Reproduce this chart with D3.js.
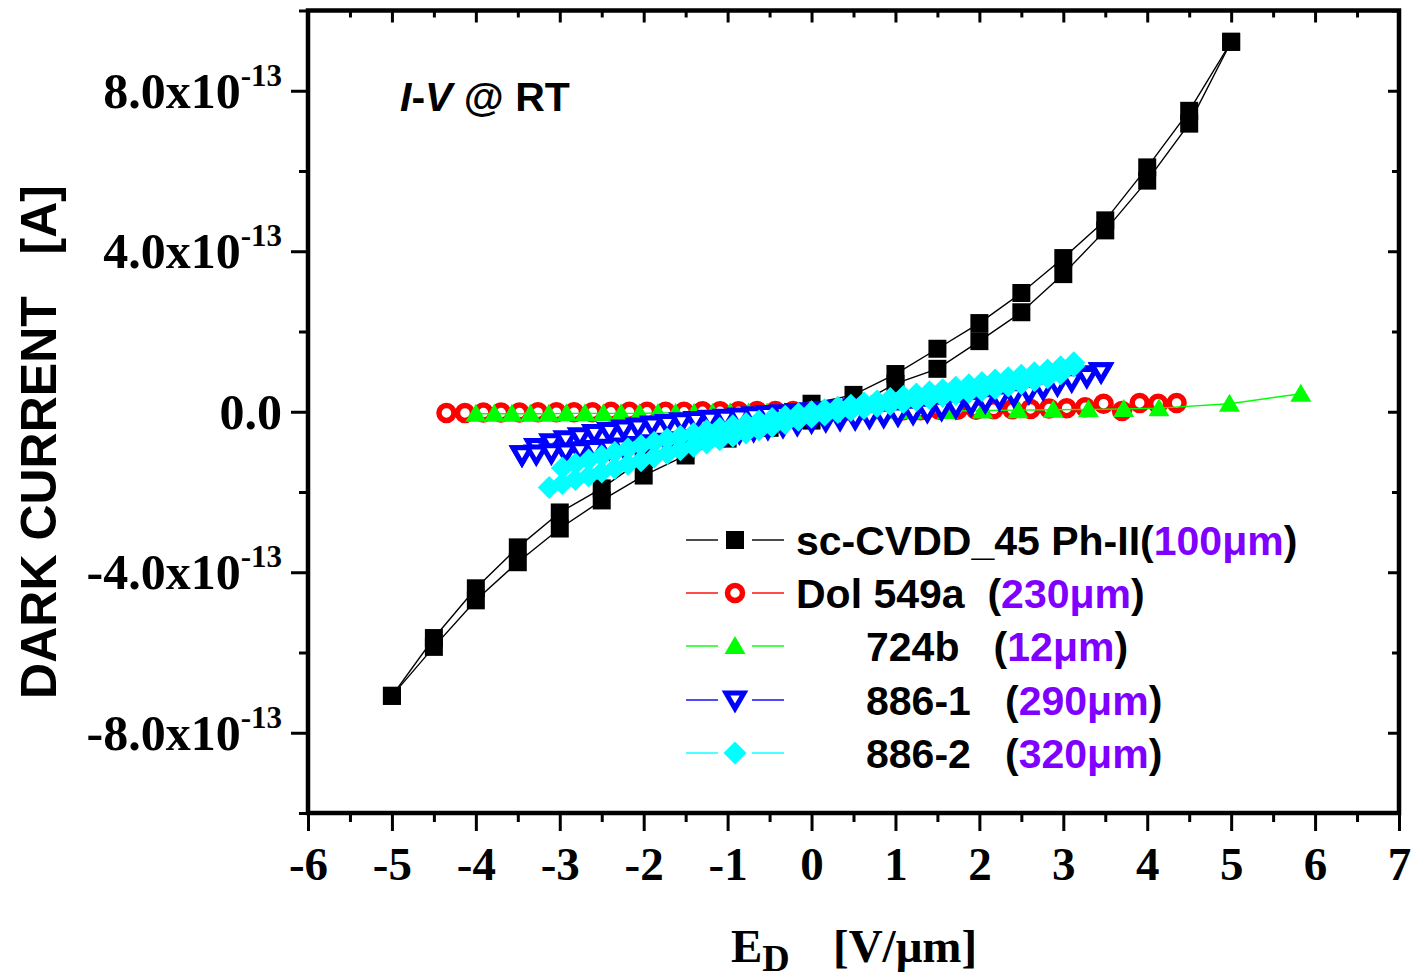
<!DOCTYPE html>
<html>
<head>
<meta charset="utf-8">
<script src="https://cdn.jsdelivr.net/npm/d3@7"></script>
<style>
  html, body { margin: 0; padding: 0; background: #fff; }
  svg { display: block; }
</style>
</head>
<body>
<svg id="chart" width="1411" height="980"></svg>
<script>
// Dark current vs. field, currents in units of 1e-13 A.

// sc-CVDD_45 Ph-II (100 um): two sweeps
const cvdX      = [-5,-4.5,-4,-3.5,-3,-2.5,-2,-1.5,-1,-0.5,0,0.5,1,1.5,2,2.5,3,3.5,4,4.5,5];
const cvdSweepA = [-7.08,-5.64,-4.40,-3.38,-2.51,-1.91,-1.17,-0.84,-0.55,-0.12,0.20,0.42,0.94,1.57,2.21,2.96,3.83,4.77,6.09,7.50,9.22];
const cvdSweepB = [-7.08,-5.86,-4.70,-3.75,-2.91,-2.21,-1.59,-1.09,-0.67,-0.40,-0.22,0.12,0.70,1.07,1.76,2.48,3.43,4.52,5.76,7.18,9.22];

// Dol 549a (230 um)
const dolX = [-4.35,-4.13,-3.91,-3.70,-3.48,-3.26,-3.04,-2.83,-2.61,-2.39,-2.17,-1.96,-1.74,-1.52,-1.30,-1.09,-0.87,-0.65,-0.43,-0.22,0,
              0.22,0.43,0.65,0.87,1.09,1.30,1.52,1.74,1.96,2.17,2.39,2.61,2.83,3.04,3.26,3.48,3.70,3.91,4.13,4.35];
const dolI = [-0.03,-0.03,-0.02,-0.02,-0.02,-0.01,-0.01,-0.01,-0.01,0,0,0,0,0,0.01,0.01,0.01,0.02,0.02,0.02,0.02,
              0.03,0.03,0.03,0.04,0.04,0.04,0.05,0.05,0.05,0.06,0.06,0.07,0.08,0.09,0.11,0.20,0.02,0.22,0.20,0.22];

// 724b (12 um)
const s724X = [-4.00,-3.78,-3.57,-3.35,-3.13,-2.92,-2.70,-2.48,-2.27,-2.05,-1.83,-1.62,-1.40,-1.18,-0.97,-0.75,-0.53,
               -0.32,-0.10,0.12,0.33,0.55,0.77,0.98,1.20,1.62,2.04,2.46,2.88,3.30,3.72,4.14,4.98,5.83];
const s724I = [-0.05,-0.05,-0.05,-0.05,-0.05,-0.04,-0.04,-0.04,-0.04,-0.04,-0.03,-0.03,-0.03,-0.03,-0.02,-0.02,-0.02,
               -0.01,-0.01,0,0,0,0.01,0.01,0.01,0.02,0.03,0.04,0.05,0.06,0.07,0.09,0.20,0.45];

// 886-1 (290 um): two sweeps
const s8861X = [-3.45,-3.28,-3.10,-2.93,-2.76,-2.59,-2.41,-2.24,-2.07,-1.90,-1.72,-1.55,-1.38,-1.21,-1.03,-0.86,-0.69,-0.52,-0.34,-0.17,0,
                0.17,0.34,0.52,0.69,0.86,1.03,1.21,1.38,1.55,1.72,1.90,2.07,2.24,2.41,2.59,2.76,2.93,3.10,3.28,3.45];
const s8861A = [-1.07,-0.89,-0.77,-0.70,-0.62,-0.54,-0.49,-0.43,-0.38,-0.33,-0.29,-0.25,-0.22,-0.19,-0.16,-0.13,-0.10,-0.07,-0.05,-0.02,0.00,
                0.03,0.06,0.10,0.13,0.17,0.21,0.25,0.29,0.33,0.37,0.42,0.46,0.51,0.56,0.62,0.68,0.75,0.83,0.92,1.00];
const s8861B = [-1.07,-1.05,-1.02,-1.00,-0.97,-0.94,-0.91,-0.88,-0.84,-0.80,-0.76,-0.72,-0.67,-0.62,-0.57,-0.52,-0.46,-0.41,-0.36,-0.31,-0.25,
                -0.22,-0.19,-0.17,-0.14,-0.11,-0.08,-0.04,0.01,0.06,0.12,0.18,0.25,0.32,0.40,0.48,0.57,0.67,0.77,0.88,1.00];

// 886-2 (320 um): two sweeps
const s8862X = [-3.125,-2.969,-2.813,-2.656,-2.5,-2.344,-2.188,-2.031,-1.875,-1.719,-1.563,-1.406,-1.25,-1.094,-0.938,-0.781,-0.625,-0.469,-0.313,-0.156,0,
                0.156,0.313,0.469,0.625,0.781,0.938,1.094,1.25,1.406,1.563,1.719,1.875,2.031,2.188,2.344,2.5,2.656,2.813,2.969,3.125];
const s8862A = [null,-1.40,-1.30,-1.20,-1.10,-1.01,-0.92,-0.84,-0.76,-0.68,-0.61,-0.54,-0.47,-0.41,-0.35,-0.29,-0.23,-0.17,-0.11,-0.05,0.00,
                0.05,0.11,0.16,0.22,0.27,0.33,0.38,0.44,0.50,0.55,0.61,0.67,0.73,0.79,0.85,0.91,0.97,1.04,1.12,1.22];
const s8862B = [-1.89,-1.79,-1.69,-1.60,-1.50,-1.41,-1.31,-1.22,-1.13,-1.04,-0.95,-0.86,-0.78,-0.70,-0.61,-0.53,-0.45,-0.37,-0.29,-0.21,-0.14,
                -0.08,-0.02,0.03,0.08,0.13,0.18,0.23,0.28,0.33,0.38,0.43,0.48,0.53,0.58,0.64,0.70,0.77,0.85,0.95,1.14];

// Axis ticks
const xMajor = [-6,-5,-4,-3,-2,-1,0,1,2,3,4,5,6,7];
const xMinor = [-5.5,-4.5,-3.5,-2.5,-1.5,-0.5,0.5,1.5,2.5,3.5,4.5,5.5,6.5];
const yMajor = [-8,-4,0,4,8];
const yMinor = [-10,-6,-2,2,6,10];
const yMantissa = ["-8.0","-4.0","0.0","4.0","8.0"];

// Legend entries
const legendNames  = ["sc-CVDD_45 Ph-II(", "Dol 549a  (", "724b   (", "886-1   (", "886-2   ("];
const legendThick  = ["100\u03bcm", "230\u03bcm", "12\u03bcm", "290\u03bcm", "320\u03bcm"];
const seriesColors = ["#000000", "#ff0000", "#00ff00", "#0000ff", "#00ffff"];
const seriesShapes = ["square", "circle", "triangle", "down", "diamond"];

const svg = d3.select("#chart");
const plotLeft = 308, plotRight = 1399, plotTop = 10.5, plotBottom = 813;
const x = d3.scaleLinear().domain([-6, 7]).range([plotLeft, plotRight]);
const y = d3.scaleLinear().domain([-10, 10]).range([plotBottom, plotTop]);

const SERIF = "'Liberation Serif', 'Times New Roman', serif";
const SANS = "'Liberation Sans', Arial, sans-serif";

// marker drawing
function drawMarker(g, shape, color, cx, cy) {
  if (shape === "circle") {
    g.append("circle").attr("cx", cx).attr("cy", cy).attr("r", 7.5)
      .attr("fill", "#fff").attr("stroke", color).attr("stroke-width", 5.5);
    return;
  }
  const paths = {
    square: "M-9,-9H9V9H-9Z",
    triangle: "M0,-10L10.5,8L-10.5,8Z",
    down: "M-9,-7L9,-7L0,8.5Z",
    diamond: "M0,-11.5L11.5,0L0,11.5L-11.5,0Z"
  };
  const p = g.append("path").attr("d", paths[shape])
    .attr("transform", `translate(${cx},${cy})`);
  if (shape === "down") {
    p.attr("fill", "#fff").attr("stroke", color).attr("stroke-width", 5)
     .attr("stroke-linejoin", "miter");
  } else {
    p.attr("fill", color);
  }
}

const plot = svg.append("g");
const line = d3.line().defined(d => d[1] !== null).x(d => x(d[0])).y(d => y(d[1]));

function drawSeries(xs, ys, color, shape) {
  const pts = xs.map((v, i) => [v, ys[i]]);
  const g = plot.append("g");
  g.append("path").attr("d", line(pts)).attr("fill", "none")
    .attr("stroke", color).attr("stroke-width", 1.4);
  pts.filter(d => d[1] !== null).forEach(d => drawMarker(g, shape, color, x(d[0]), y(d[1])));
}

// lines of each series under the markers
drawSeries(cvdX, cvdSweepA, seriesColors[0], seriesShapes[0]);
drawSeries(cvdX, cvdSweepB, seriesColors[0], seriesShapes[0]);
drawSeries(dolX, dolI, seriesColors[1], seriesShapes[1]);
drawSeries(s724X, s724I, seriesColors[2], seriesShapes[2]);
drawSeries(s8861X, s8861A, seriesColors[3], seriesShapes[3]);
drawSeries(s8861X, s8861B, seriesColors[3], seriesShapes[3]);
drawSeries(s8862X, s8862B, seriesColors[4], seriesShapes[4]);
drawSeries(s8862X, s8862A, seriesColors[4], seriesShapes[4]);

// axes
function styleAxis(g) {
  g.select(".domain").remove();
  g.selectAll(".tick line").attr("stroke", "#000").attr("stroke-width", 3);
}
svg.append("g").attr("transform", `translate(0,${plotBottom})`)
  .call(d3.axisBottom(x).tickValues(xMajor).tickSize(18).tickPadding(16).tickFormat(d => String(d)))
  .call(styleAxis)
  .call(g => g.selectAll("text").attr("font-family", SERIF).attr("font-weight", "bold")
    .attr("font-size", 47).attr("fill", "#000"));
svg.append("g").attr("transform", `translate(0,${plotBottom})`)
  .call(d3.axisBottom(x).tickValues(xMinor).tickSize(9).tickFormat(""))
  .call(styleAxis);
svg.append("g").attr("transform", `translate(0,${plotTop})`)
  .call(d3.axisBottom(x).tickValues(xMajor).tickSize(12).tickFormat(""))
  .call(styleAxis);
svg.append("g").attr("transform", `translate(0,${plotTop})`)
  .call(d3.axisBottom(x).tickValues(xMinor).tickSize(7).tickFormat(""))
  .call(styleAxis);
svg.append("g").attr("transform", `translate(${plotLeft},0)`)
  .call(d3.axisLeft(y).tickValues(yMajor).tickSize(17).tickFormat(""))
  .call(styleAxis);
svg.append("g").attr("transform", `translate(${plotLeft},0)`)
  .call(d3.axisLeft(y).tickValues(yMinor).tickSize(9).tickFormat(""))
  .call(styleAxis);
svg.append("g").attr("transform", `translate(${plotRight},0)`)
  .call(d3.axisRight(y).tickValues(yMajor).tickSize(-11).tickFormat(""))
  .call(styleAxis);
svg.append("g").attr("transform", `translate(${plotRight},0)`)
  .call(d3.axisRight(y).tickValues(yMinor).tickSize(-7).tickFormat(""))
  .call(styleAxis);

// frame
svg.append("rect").attr("x", plotLeft).attr("y", plotTop)
  .attr("width", plotRight - plotLeft).attr("height", plotBottom - plotTop)
  .attr("fill", "none").attr("stroke", "#000").attr("stroke-width", 4.5);

// y tick labels
yMajor.forEach((v, i) => {
  const t = svg.append("text").attr("x", 282).attr("y", y(v) + 17)
    .attr("text-anchor", "end").attr("font-family", SERIF).attr("font-weight", "bold")
    .attr("font-size", 50).attr("fill", "#000");
  if (v === 0) {
    t.text(yMantissa[i]);
  } else {
    t.append("tspan").text(yMantissa[i] + "x10");
    t.append("tspan").attr("font-size", 31).attr("dy", -22).text("-13");
  }
});

// axis titles
const xt = svg.append("text").attr("x", 731).attr("y", 962)
  .attr("font-family", SERIF).attr("font-weight", "bold").attr("font-size", 47)
  .attr("fill", "#000");
xt.append("tspan").text("E");
xt.append("tspan").attr("font-size", 38).attr("dy", 9).text("D");
svg.append("text").attr("x", 833).attr("y", 962)
  .attr("font-family", SERIF).attr("font-weight", "bold").attr("font-size", 47)
  .attr("fill", "#000").text("[V/\u03bcm]");

svg.append("text").attr("transform", "translate(56,442) rotate(-90)")
  .attr("text-anchor", "middle").attr("font-family", SANS).attr("font-weight", "bold")
  .attr("font-size", 50).attr("fill", "#000").attr("xml:space", "preserve")
  .style("white-space", "pre").text("DARK CURRENT   [A]");

// annotation
const ann = svg.append("text").attr("x", 400).attr("y", 111)
  .attr("font-family", SANS).attr("font-weight", "bold").attr("font-size", 41).attr("fill", "#000")
  .attr("xml:space", "preserve").style("white-space", "pre");
ann.append("tspan").attr("font-style", "italic").text("I");
ann.append("tspan").text("-");
ann.append("tspan").attr("font-style", "italic").text("V");
ann.append("tspan").text(" @ RT");

// legend
const legendY = [540, 593, 646, 700, 753];
const legendTextX = [796, 796, 866, 866, 866];
legendNames.forEach((name, i) => {
  const g = svg.append("g");
  const cy = legendY[i];
  g.append("line").attr("x1", 686).attr("x2", 718).attr("y1", cy).attr("y2", cy)
    .attr("stroke", seriesColors[i]).attr("stroke-width", 1.4);
  g.append("line").attr("x1", 752).attr("x2", 784).attr("y1", cy).attr("y2", cy)
    .attr("stroke", seriesColors[i]).attr("stroke-width", 1.4);
  drawMarker(g, seriesShapes[i], seriesColors[i], 735, cy);
  const t = g.append("text").attr("x", legendTextX[i]).attr("y", cy + 14.5)
    .attr("font-family", SANS).attr("font-weight", "bold").attr("font-size", 41)
    .attr("fill", "#000").attr("xml:space", "preserve").style("white-space", "pre");
  t.append("tspan").text(name);
  t.append("tspan").attr("fill", "#8000ff").text(legendThick[i]);
  t.append("tspan").text(")");
});
</script>
</body>
</html>
